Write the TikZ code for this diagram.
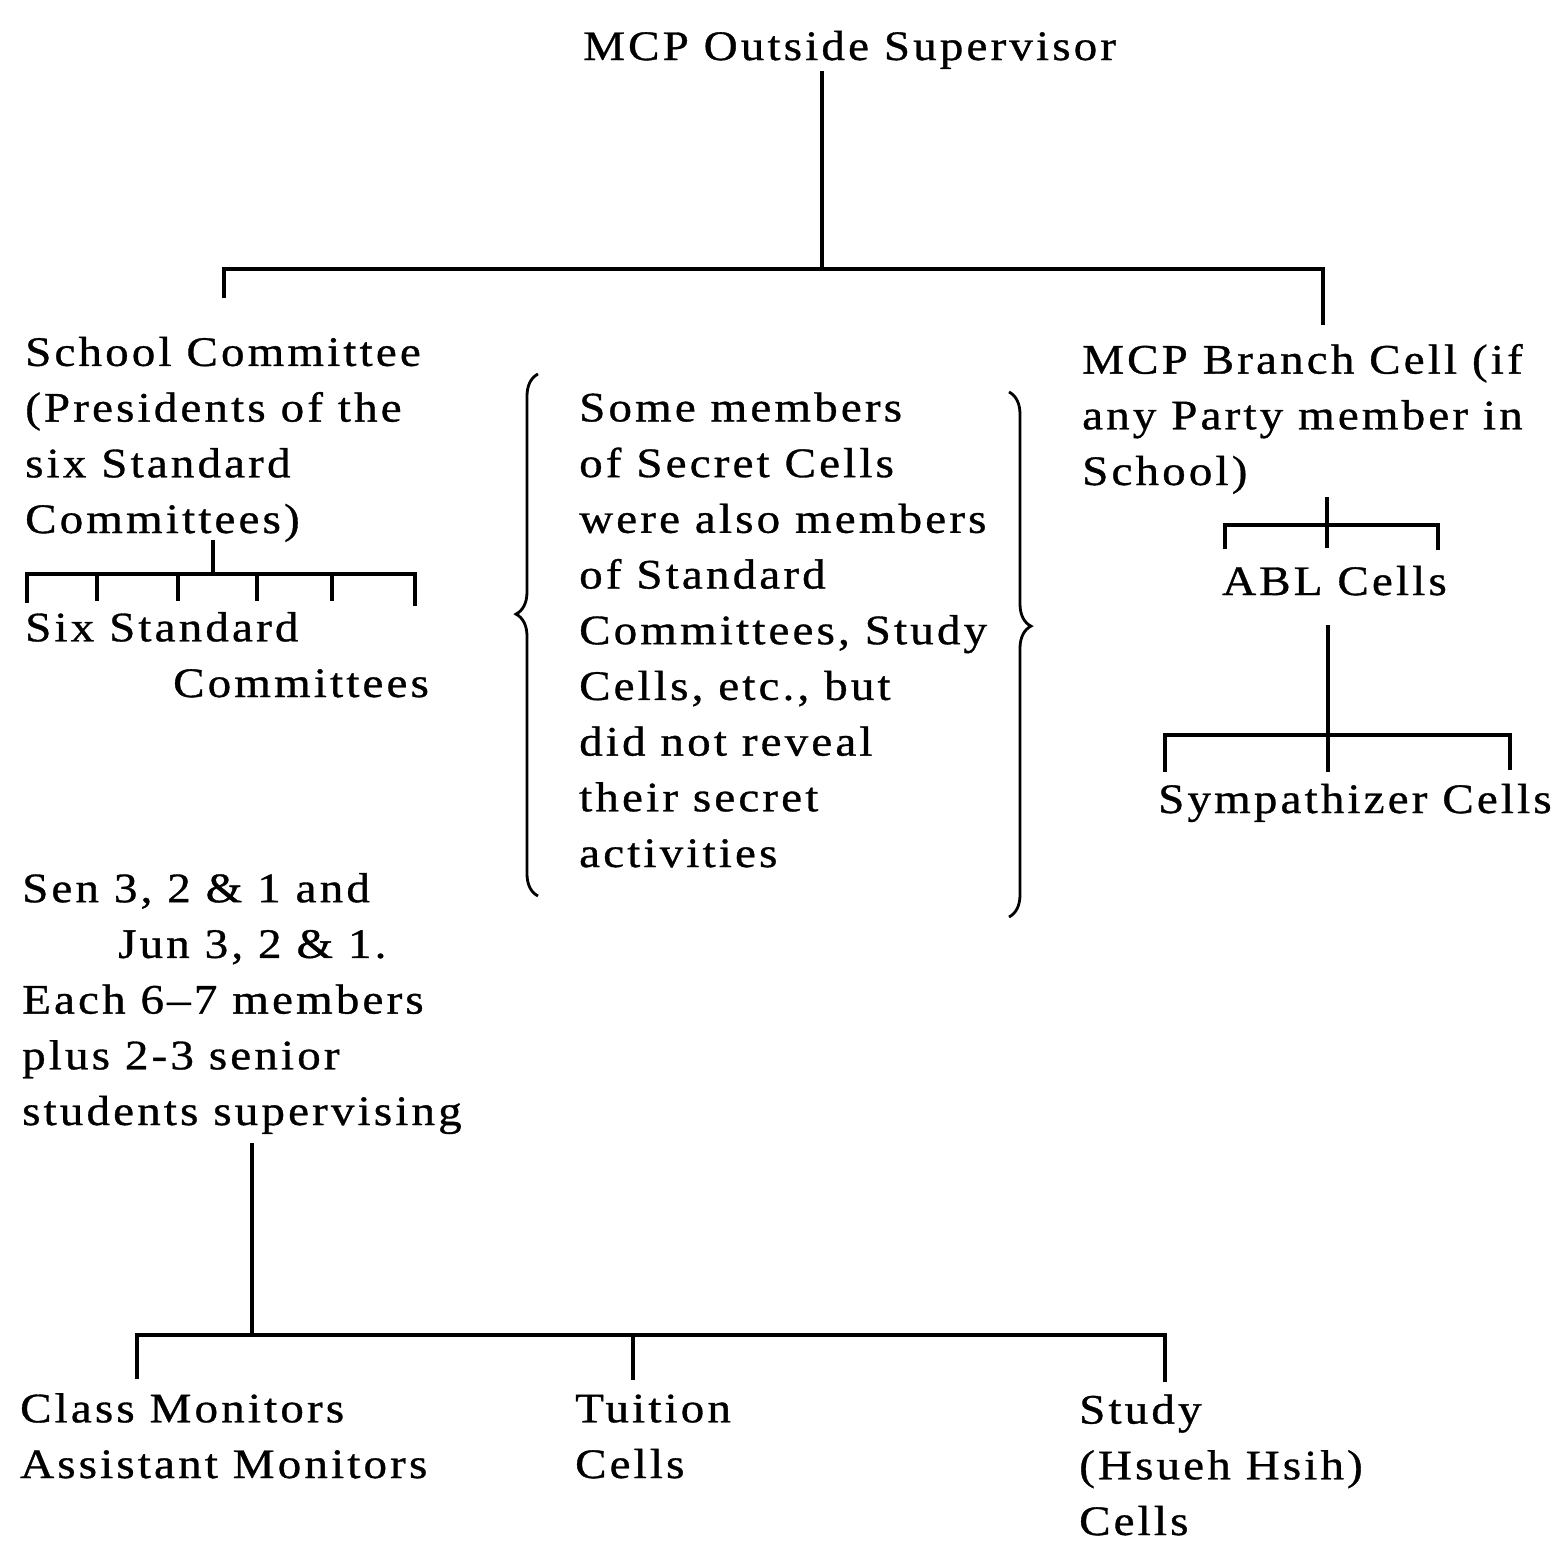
\documentclass[tikz,border=0pt]{standalone}
\usepackage{fontspec}
\newfontfamily\lfont{Liberation Serif}[LetterSpace=7.5,FakeStretch=1.12,FakeBold=0.8]
\usetikzlibrary{decorations.pathreplacing}
\begin{document}
\begin{tikzpicture}[x=1pt,y=-1pt,
  lbl/.style={anchor=base west, inner sep=0pt, align=left, font={\lfont\fontsize{42}{55.7}\selectfont}},
  tree/.style={line width=3.5pt},
  bar/.style={line width=4.2pt},
  brc/.style={decorate, decoration={brace, amplitude=22pt, aspect=#1}, line width=2.8pt}]
\useasboundingbox (0,0) rectangle (1556,1542);

% texts (anchored at the baseline of their last line)
\node[lbl] (sup) at (583,60) {MCP Outside Supervisor};
\node[lbl] (sc) at (25,533) {School Committee\\(Presidents of the\\six Standard\\Committees)};
\node[lbl] (six) at (25,697) {Six Standard\\\hspace*{148pt}Committees};
\node[lbl] (sec) at (579,867) {Some members\\of Secret Cells\\were also members\\of Standard\\Committees, Study\\Cells, etc., but\\did not reveal\\their secret\\activities};
\node[lbl] (br) at (1082,485) {MCP Branch Cell (if\\any Party member in\\School)};
\node[lbl] (abl) at (1222,595) {ABL Cells};
\node[lbl] (sym) at (1158,813) {Sympathizer Cells};
\node[lbl] (sen) at (22,1125) {Sen 3, 2 \& 1 and\\\hspace*{96pt}Jun 3, 2 \& 1.\\Each 6–7 members\\plus 2-3 senior\\students supervising};
\node[lbl] (cm) at (20,1478) {Class Monitors\\Assistant Monitors};
\node[lbl] (tu) at (575,1478) {Tuition\\Cells};
\node[lbl] (st) at (1079,1535) {Study\\(Hsueh Hsih)\\Cells};

% top tree
\coordinate (t0) at (822,71);
\coordinate (tj) at (822,269);
\coordinate (tl) at (224,269);
\coordinate (tlb) at (224,298);
\coordinate (tr) at (1323,269);
\coordinate (trb) at (1323,325);
\draw[tree] (t0) -- (tj);
\draw[bar] (tlb) -- (tl) -- (tr) -- (trb);

% school committee subtree
\coordinate (s0) at (213,540);
\coordinate (sj) at (213,574);
\draw[tree] (s0) -- (sj);
\draw[bar] (27,603) -- (27,574) -- (415,574) -- (415,606);
\foreach \xx in {97,178,257,332}
  \draw[bar] (\xx,574) -- (\xx,601);

% branch cell subtree
\coordinate (b0) at (1327,497);
\coordinate (bj) at (1327,548);
\draw[tree] (b0) -- (bj);
\draw[bar] (1225,549) -- (1225,525) -- (1438,525) -- (1438,550);

% ABL subtree
\coordinate (a0) at (1328,625);
\coordinate (aj) at (1328,772);
\draw[tree] (a0) -- (aj);
\draw[bar] (1165,772) -- (1165,735) -- (1510,735) -- (1510,770);

% bottom tree
\coordinate (c0) at (252,1143);
\coordinate (cj) at (252,1335);
\draw[tree] (c0) -- (cj);
\draw[bar] (137,1379) -- (137,1335) -- (1165,1335) -- (1165,1382);
\draw[bar] (633,1335) -- (633,1380);

% braces
\coordinate (lb1) at (538,896);
\coordinate (lb2) at (538,374);
\coordinate (rb1) at (1009,392);
\coordinate (rb2) at (1009,917);
\draw[brc=0.54] (lb1) -- (lb2);
\draw[brc=0.446] (rb1) -- (rb2);
\end{tikzpicture}
\end{document}
